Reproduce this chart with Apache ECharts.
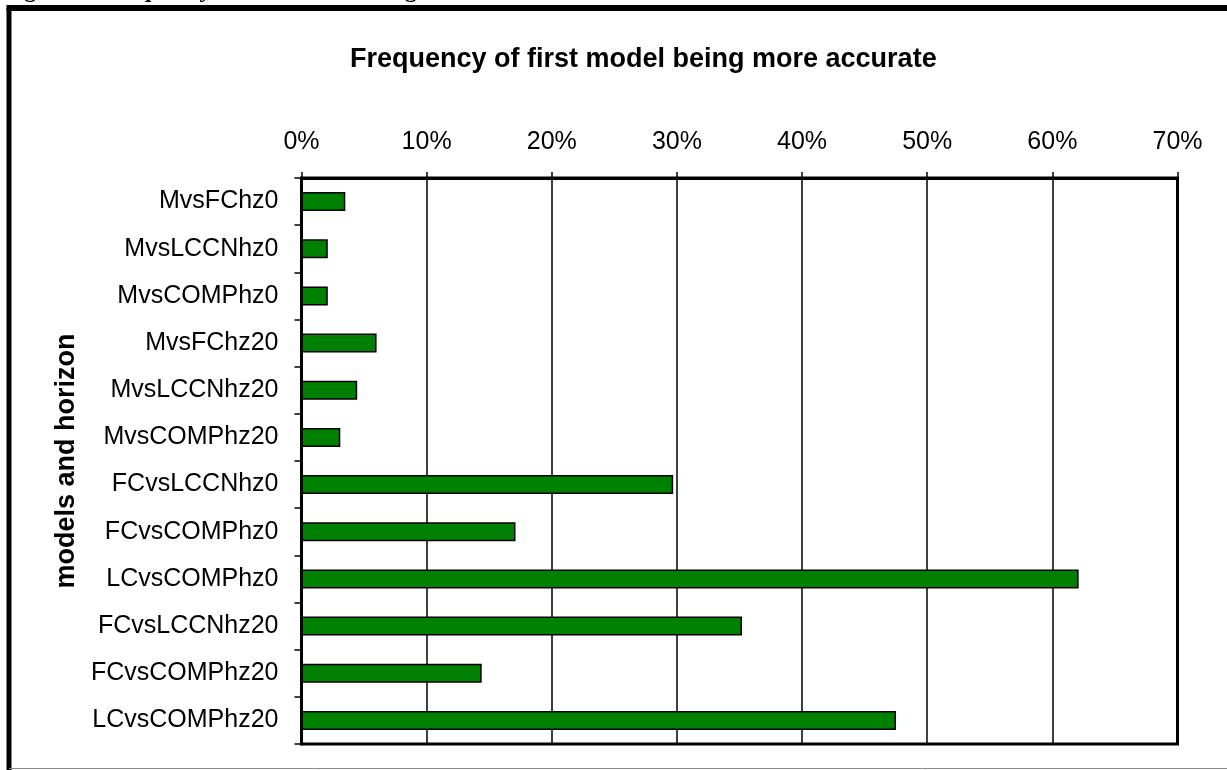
<!DOCTYPE html>
<html>
<head>
<meta charset="utf-8">
<script src="https://cdn.jsdelivr.net/npm/echarts@6/dist/echarts.min.js"></script>
<style>
html,body{margin:0;padding:0;background:#fff;}
#chart{width:1227px;height:770px;}
</style>
</head>
<body>
<div id="chart"></div>
<script>
const categories = ['MvsFChz0','MvsLCCNhz0','MvsCOMPhz0','MvsFChz20','MvsLCCNhz20','MvsCOMPhz20','FCvsLCCNhz0','FCvsCOMPhz0','LCvsCOMPhz0','FCvsLCCNhz20','FCvsCOMPhz20','LCvsCOMPhz20'];
const values = [3.5, 2.1, 2.1, 6.0, 4.45, 3.1, 29.7, 17.1, 62.1, 35.2, 14.4, 47.5];
const titleText = 'Frequency of first model being more accurate';
const captionText = 'Figure 1: Frequency of first model being more accurate';
const axisName = 'models and horizon';

const chart = echarts.init(document.getElementById('chart'), null, {renderer:'canvas'});
const font = '"Liberation Sans", Arial, sans-serif';
chart.setOption({
  backgroundColor:'#fff',
  animation:false,
  title:{
    text:titleText, left:345, top:41,
    textStyle:{fontFamily:font, fontSize:27, fontWeight:'bold', color:'#000'}
  },
  grid:{left:301.5, right:49.5, top:178, bottom:26, show:true, borderColor:'#000', borderWidth:3, containLabel:false},
  xAxis:{
    type:'value', position:'top', min:0, max:70, interval:10,
    axisLine:{show:true, lineStyle:{color:'#000', width:3}},
    axisTick:{show:true, length:6, lineStyle:{color:'#000', width:1.5}},
    axisLabel:{formatter:'{value}%', fontFamily:font, fontSize:25, color:'#000', margin:23},
    splitLine:{show:true, lineStyle:{color:'#000', width:1.5}}
  },
  yAxis:{
    type:'category', data:categories, inverse:true,
    axisLine:{show:true, lineStyle:{color:'#000', width:3}},
    axisTick:{show:true, length:7, alignWithLabel:false, lineStyle:{color:'#000', width:1.5}},
    axisLabel:{fontFamily:font, fontSize:25, color:'#000', margin:23},
    name:axisName, nameLocation:'middle', nameRotate:90, nameGap:220,
    nameTextStyle:{fontFamily:font, fontSize:27, fontWeight:'bold', color:'#000'}
  },
  series:[{
    type:'bar', data:values, barWidth:19,
    itemStyle:{color:'#008000', borderColor:'#000', borderWidth:1.5},
    silent:true
  }],
  graphic:[
    {type:'text', x:3, y:3, z:1, style:{text:captionText, verticalAlign:'bottom', align:'left', font:'bold 24px "Liberation Serif", "Times New Roman", serif', fill:'#000'}},
    {type:'line', z:5, shape:{x1:9, y1:8, x2:9, y2:770}, style:{stroke:'#000', lineWidth:5}},
    {type:'line', z:5, shape:{x1:6.5, y1:8, x2:1227, y2:8}, style:{stroke:'#000', lineWidth:6}},
    {type:'line', z:5, shape:{x1:9, y1:768.5, x2:1227, y2:768.5}, style:{stroke:'#888', lineWidth:1}}
  ]
});
</script>
</body>
</html>
